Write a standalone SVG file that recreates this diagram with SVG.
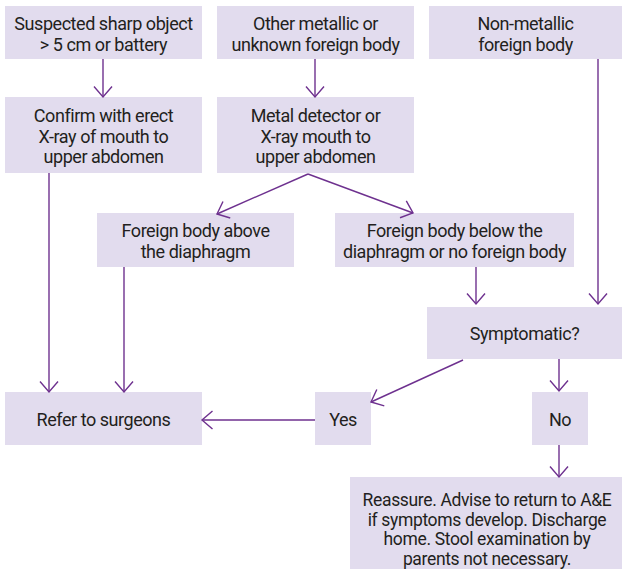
<svg xmlns="http://www.w3.org/2000/svg" width="622" height="569" viewBox="0 0 622 569">
<style>
.b{fill:#e2dcee;stroke:none}
.t{font-family:"Roboto","Liberation Sans",sans-serif;font-size:18px;letter-spacing:-0.45px;fill:#231f20;text-anchor:middle}
.s{font-size:17.5px;letter-spacing:-0.35px}
.c{fill:none;stroke:#6e318f;stroke-width:1.4}
</style>
<defs>
<marker id="a" markerWidth="24" markerHeight="24" refX="12" refY="12" orient="auto" markerUnits="userSpaceOnUse">
<path d="M1.5,3 L12,12 L1.5,21" fill="none" stroke="#6e318f" stroke-width="1.4"/>
</marker>
</defs>
<rect width="622" height="569" fill="#fff"/>
<g id="n1"><rect class="b" x="5" y="6" width="197" height="53"/><text class="t"><tspan x="103.5" y="30">Suspected sharp object</tspan><tspan x="103.5" y="51">&gt; 5 cm or battery</tspan></text></g>
<g id="n2"><rect class="b" x="217" y="6" width="197" height="53"/><text class="t"><tspan x="315.5" y="30">Other metallic or</tspan><tspan x="315.5" y="51">unknown foreign body</tspan></text></g>
<g id="n3"><rect class="b" x="429" y="6" width="193" height="53"/><text class="t"><tspan x="525.5" y="30">Non-metallic</tspan><tspan x="525.5" y="51">foreign body</tspan></text></g>
<g id="n4"><rect class="b" x="5" y="97" width="197" height="76"/><text class="t"><tspan x="103.5" y="122">Confirm with erect</tspan><tspan x="103.5" y="142.5">X-ray of mouth to</tspan><tspan x="103.5" y="163">upper abdomen</tspan></text></g>
<g id="n5"><rect class="b" x="217" y="97" width="197" height="76"/><text class="t"><tspan x="315.5" y="122">Metal detector or</tspan><tspan x="315.5" y="142.5">X-ray mouth to</tspan><tspan x="315.5" y="163">upper abdomen</tspan></text></g>
<g id="n6"><rect class="b" x="97" y="213" width="197" height="54"/><text class="t"><tspan x="195.5" y="237">Foreign body above</tspan><tspan x="195.5" y="257.5">the diaphragm</tspan></text></g>
<g id="n7"><rect class="b" x="335" y="213" width="239" height="54"/><text class="t"><tspan x="454.5" y="237">Foreign body below the</tspan><tspan x="454.5" y="257.5">diaphragm or no foreign body</tspan></text></g>
<g id="n8"><rect class="b" x="427" y="307" width="195" height="52"/><text class="t" x="524.5" y="340">Symptomatic?</text></g>
<g id="n9"><rect class="b" x="5" y="392" width="197" height="53"/><text class="t" x="103.5" y="426">Refer to surgeons</text></g>
<g id="n10"><rect class="b" x="315" y="392" width="56" height="53"/><text class="t" x="343" y="426">Yes</text></g>
<g id="n11"><rect class="b" x="532" y="392" width="56" height="53"/><text class="t" x="560" y="426">No</text></g>
<g id="n12"><rect class="b" x="350" y="477" width="272" height="92"/><text class="t s"><tspan x="487" y="506">Reassure. Advise to return to A&amp;E</tspan><tspan x="487" y="525.5">if symptoms develop. Discharge</tspan><tspan x="487" y="545">home. Stool examination by</tspan><tspan x="487" y="564.5">parents not necessary.</tspan></text></g>
<g id="connectors">
<line class="c" x1="103" y1="59" x2="103" y2="97" marker-end="url(#a)"/>
<line class="c" x1="315" y1="59" x2="315" y2="97" marker-end="url(#a)"/>
<line class="c" x1="308" y1="174" x2="217" y2="214" marker-end="url(#a)"/>
<line class="c" x1="308" y1="174" x2="413" y2="213" marker-end="url(#a)"/>
<line class="c" x1="49" y1="173" x2="49" y2="392" marker-end="url(#a)"/>
<line class="c" x1="124" y1="267" x2="124" y2="392" marker-end="url(#a)"/>
<line class="c" x1="598" y1="59" x2="598" y2="304" marker-end="url(#a)"/>
<line class="c" x1="476" y1="267" x2="476" y2="304" marker-end="url(#a)"/>
<line class="c" x1="463" y1="360" x2="371" y2="402" marker-end="url(#a)"/>
<line class="c" x1="559" y1="359" x2="559" y2="391" marker-end="url(#a)"/>
<line class="c" x1="315" y1="420" x2="202" y2="420" marker-end="url(#a)"/>
<line class="c" x1="559" y1="445" x2="559" y2="477" marker-end="url(#a)"/>
</g>
</svg>
